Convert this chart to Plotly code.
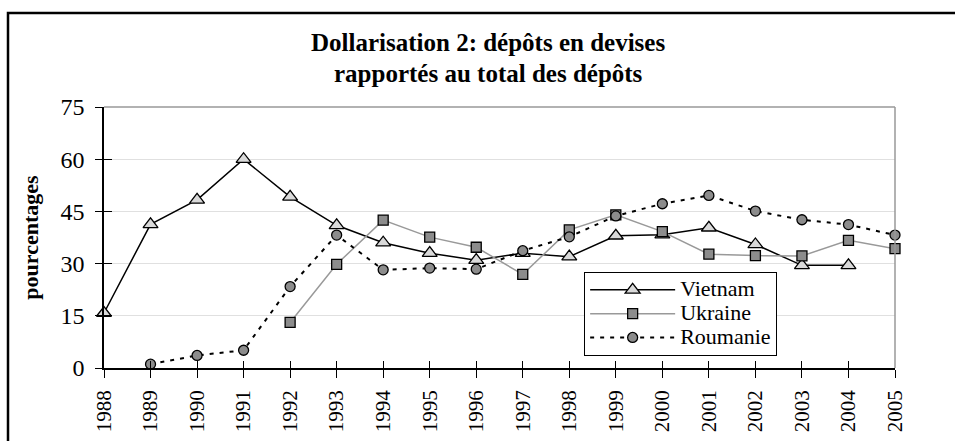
import plotly.graph_objects as go

years = list(range(1988, 2006))
vietnam_years = list(range(1988, 2005))
vietnam = [15.8, 41.3, 48.3, 60.0, 49.2, 41.0, 36.0, 33.0, 31.0, 33.0, 32.0, 38.0, 38.3, 40.3, 35.5, 29.5, 29.5]
ukraine_years = list(range(1992, 2006))
ukraine = [13.1, 29.8, 42.5, 37.6, 34.7, 26.9, 39.7, 44.0, 39.2, 32.7, 32.3, 32.2, 36.7, 34.3]
roumanie_years = list(range(1989, 2006))
roumanie = [1.1, 3.6, 5.1, 23.4, 38.2, 28.2, 28.7, 28.4, 33.7, 37.7, 43.7, 47.2, 49.6, 45.1, 42.6, 41.2, 38.2]
series_names = ["Vietnam", "Ukraine", "Roumanie"]

title_line1 = "Dollarisation 2: dépôts en devises"
title_line2 = "rapportés au total des dépôts"
y_title = "pourcentages"

FONT = "Times New Roman, Liberation Serif, serif"


def legend_label(s):
    return '<span style="font-size:22px">' + s + '</span>'


fig = go.Figure()
fig.add_trace(go.Scatter(
    x=vietnam_years, y=vietnam, name=legend_label(series_names[0]), mode="lines+markers",
    line=dict(color="black", width=1.5),
    marker=dict(symbol="triangle-up", size=13, color="#d9d9d9", line=dict(color="black", width=1.3)),
    cliponaxis=False))
fig.add_trace(go.Scatter(
    x=ukraine_years, y=ukraine, name=legend_label(series_names[1]), mode="lines+markers",
    line=dict(color="#999999", width=1.5),
    marker=dict(symbol="square", size=10, color="#8c8c8c", line=dict(color="black", width=1.3)),
    cliponaxis=False))
fig.add_trace(go.Scatter(
    x=roumanie_years, y=roumanie, name=legend_label(series_names[2]), mode="lines+markers",
    line=dict(color="black", width=2, dash="4px,6px"),
    marker=dict(symbol="circle", size=10, color="#8c8c8c", line=dict(color="black", width=1.3)),
    cliponaxis=False))

fig.update_layout(
    width=955, height=441,
    margin=dict(l=104, r=60, t=107, b=73),
    paper_bgcolor="white", plot_bgcolor="white",
    font=dict(family=FONT, color="black", size=20),
    showlegend=True,
    legend=dict(x=0.607, y=0.368, xanchor="left", yanchor="top",
                bgcolor="white", bordercolor="black", borderwidth=1,
                font=dict(family=FONT, size=16), tracegroupgap=0,
                itemwidth=85),
    xaxis=dict(range=[1988, 2005], tickmode="array", tickvals=years,
               ticktext=[str(y) for y in years], tickangle=-90,
               showline=True, linecolor="black", linewidth=1.5,
               ticks="outside", ticklen=8, tickcolor="black", tickwidth=1,
               ticklabelstandoff=4, automargin=False,
               showgrid=False, zeroline=False, mirror=False,
               tickfont=dict(family=FONT, size=21)),
    xaxis2=dict(range=[1988, 2005], overlaying="x", anchor="y", side="bottom",
                tickmode="array", tickvals=years, showticklabels=False,
                ticks="inside", ticklen=7, tickcolor="black", tickwidth=1,
                showgrid=False, zeroline=False, showline=False, automargin=False),
    yaxis=dict(range=[0, 75], tickmode="array", tickvals=[0, 15, 30, 45, 60, 75],
               showline=True, linecolor="black", linewidth=1.5,
               ticks="outside", ticklen=7, tickcolor="black", tickwidth=1,
               ticklabelstandoff=6, automargin=False,
               showgrid=True, gridcolor="#e0e0e0", gridwidth=1, zeroline=False,
               tickfont=dict(family=FONT, size=24),
               title=dict(text="<b>" + y_title + "</b>", font=dict(family=FONT, size=22), standoff=16)),
    yaxis2=dict(range=[0, 75], overlaying="y", anchor="x", side="left",
                tickmode="array", tickvals=[0, 15, 30, 45, 60, 75], showticklabels=False,
                ticks="inside", ticklen=8, tickcolor="black", tickwidth=1,
                showgrid=False, zeroline=False, showline=False, automargin=False),
)

fig.add_trace(go.Scatter(x=[1988], y=[0], xaxis="x2", yaxis="y2", mode="markers",
                         marker=dict(opacity=0), showlegend=False, hoverinfo="skip"))

fig.add_shape(type="line", xref="paper", yref="paper", x0=0, x1=1, y0=1, y1=1,
              line=dict(color="#999999", width=1.5))
fig.add_shape(type="line", xref="paper", yref="paper", x0=1, x1=1, y0=0, y1=1,
              line=dict(color="#999999", width=1.5))
fig.add_shape(type="rect", xref="paper", yref="paper",
              x0=(8 - 104) / 791, x1=1.2, y0=-0.4, y1=(368 - 13) / 261,
              line=dict(color="black", width=2.5), fillcolor="rgba(0,0,0,0)", layer="above")

fig.add_annotation(text="<b>" + title_line1 + "</b>", xref="paper", yref="paper",
                   x=(488 - 104) / 791, y=(368 - 43) / 261, showarrow=False,
                   xanchor="center", yanchor="middle", font=dict(family=FONT, size=25))
fig.add_annotation(text="<b>" + title_line2 + "</b>", xref="paper", yref="paper",
                   x=(488 - 104) / 791, y=(368 - 73) / 261, showarrow=False,
                   xanchor="center", yanchor="middle", font=dict(family=FONT, size=25))

fig.write_html("out.html", config={"displayModeBar": False},
               post_script="document.body.style.margin='0';document.body.style.overflow='hidden';")
